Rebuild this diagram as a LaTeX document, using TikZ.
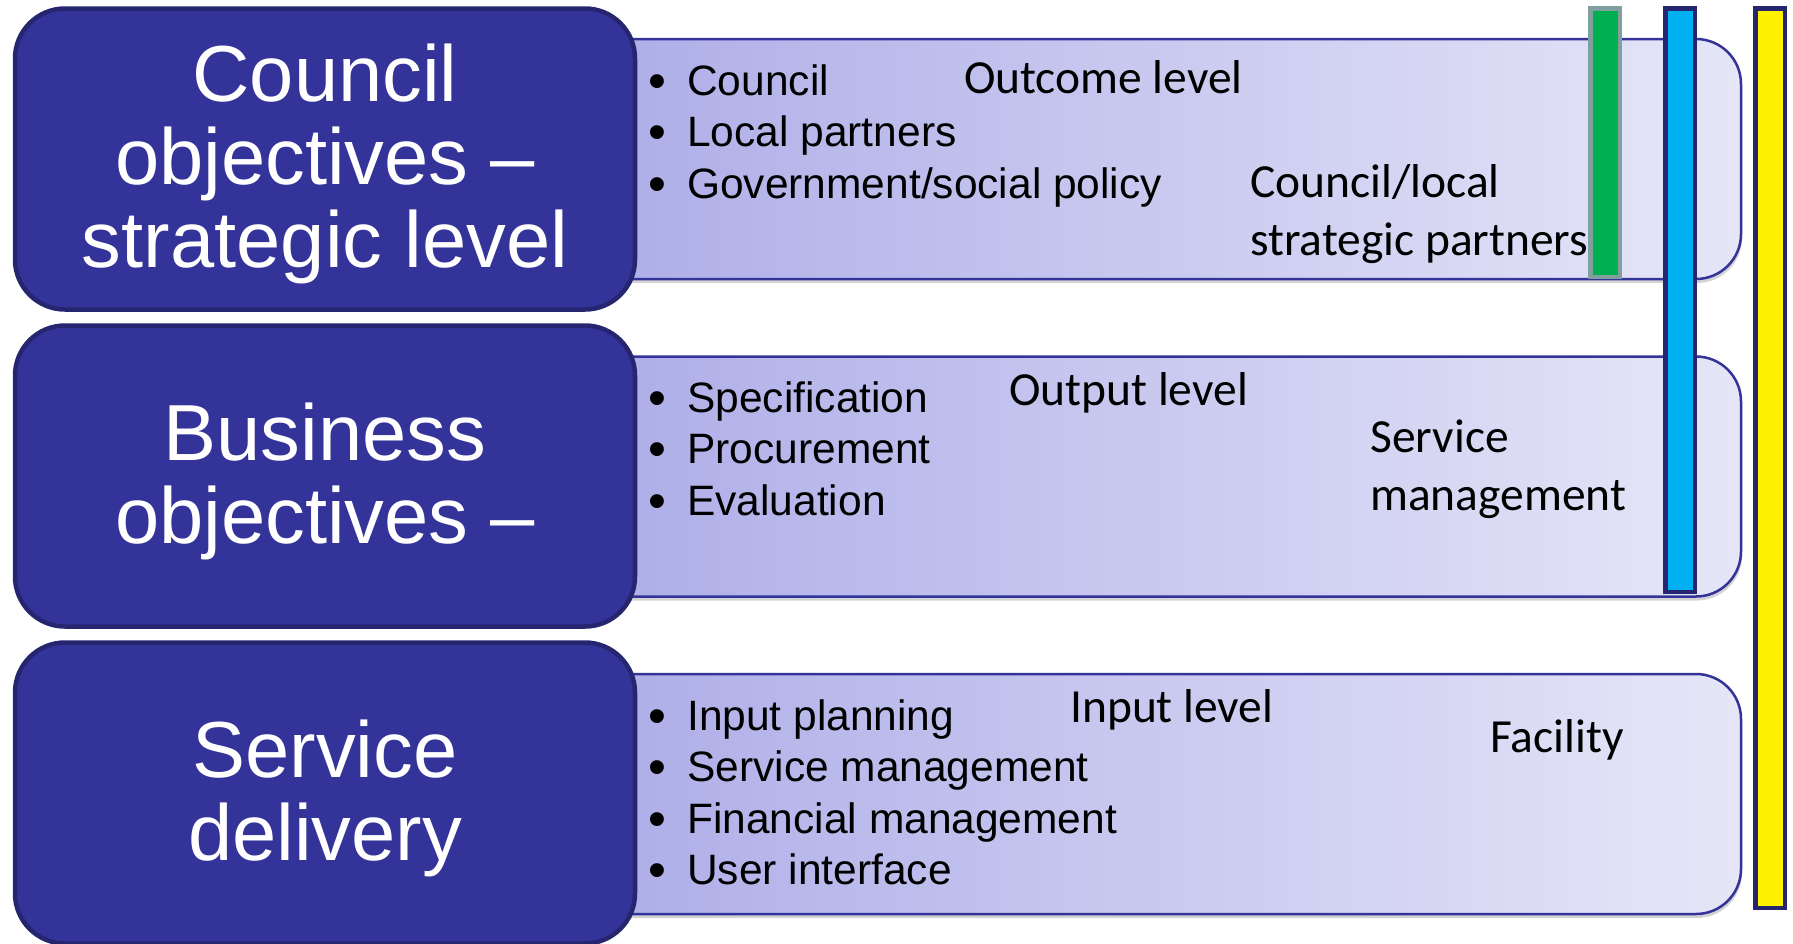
\documentclass[tikz,border=0pt]{standalone}
\usepackage{fontspec}
\setmainfont{Liberation Sans}
\newfontfamily\calibri{Carlito}
\usetikzlibrary{shadows}
\definecolor{dblue}{RGB}{51,51,153}
\definecolor{navy}{RGB}{38,38,112}
\definecolor{lavleft}{RGB}{172,172,232}
\definecolor{lavright}{RGB}{230,230,248}
\definecolor{bargreen}{RGB}{0,176,80}
\definecolor{bargrey}{RGB}{128,160,160}
\definecolor{barcyan}{RGB}{0,176,240}
\newcommand{\bitem}[1]{\makebox[39pt][l]{\smash{\raisebox{-3pt}{\scalebox{1.2}{\textbullet}}}}#1}

\begin{document}
\begin{tikzpicture}[x=1pt,y=-1pt,
  level/.style={draw=navy, line width=4.5pt, fill=dblue, rounded corners=50pt,
    minimum width=620pt, minimum height=301pt, text=white, align=center,
    text depth=6pt, font=\fontsize{79.5}{83}\selectfont},
  band/.style={draw=dblue, line width=2.5pt, left color=lavleft, right color=lavright,
    rounded corners=45pt, minimum width=1179pt, minimum height=240pt,
    drop shadow={opacity=0.35, shadow xshift=1pt, shadow yshift=-4pt}},
  bul/.style={anchor=base west, inner sep=0pt, font=\fontsize{42.5}{51}\selectfont},
  tag/.style={anchor=base west, inner sep=0pt, font=\calibri\fontsize{47.5}{58}\selectfont},
  bar/.style={draw=navy, line width=4.5pt}]
\useasboundingbox (0,0) rectangle (1793,943);
\clip (0,0) rectangle (1793,943);
% strategic level
\node[band] (band1) at (1151.5,159) {};
\node[level] (council) at (325,159) {Council\\objectives --\\strategic level};
\foreach \txt [count=\i from 0] in {Council,Local partners,Government/social policy}
    \node[bul] (b1-\i) at (648,95+51.5*\i) {\bitem{\txt}};
\node[tag] (outcome) at (964,93) {Outcome level};
\node[tag] (partners1) at (1250,197) {Council/local};
\node[tag] (partners2) at (1250,255) {strategic partners};
% business level
\node[band] (band2) at (1151.5,476.5) {};
\node[level] (business) at (325,476) {Business\\objectives --};
\foreach \txt [count=\i from 0] in {Specification,Procurement,Evaluation}
    \node[bul] (b2-\i) at (648,412+51.5*\i) {\bitem{\txt}};
\node[tag] (output) at (1009,405) {Output level};
\node[tag] (service1) at (1370,452) {Service};
\node[tag] (service2) at (1370,510) {management};
% delivery level
\node[band] (band3) at (1151.5,794) {};
\node[level] (delivery) at (325,793) {Service\\delivery};
\foreach \txt [count=\i from 0] in {Input planning,Service management,Financial management,User interface}
    \node[bul] (b3-\i) at (648,730+51.5*\i) {\bitem{\txt}};
\node[tag] (input) at (1070,722) {Input level};
\node[tag] (facility) at (1490,752) {Facility};
% bars
\draw[bar, draw=bargrey, fill=bargreen] (1590.25,8.25) rectangle (1619.75,276.75);
\foreach \x/\y/\c in {1665.25/591.75/barcyan, 1755.25/907.75/yellow}
    \draw[bar, fill=\c] (\x,8.25) rectangle (\x+29.5,\y);
\end{tikzpicture}
\end{document}
